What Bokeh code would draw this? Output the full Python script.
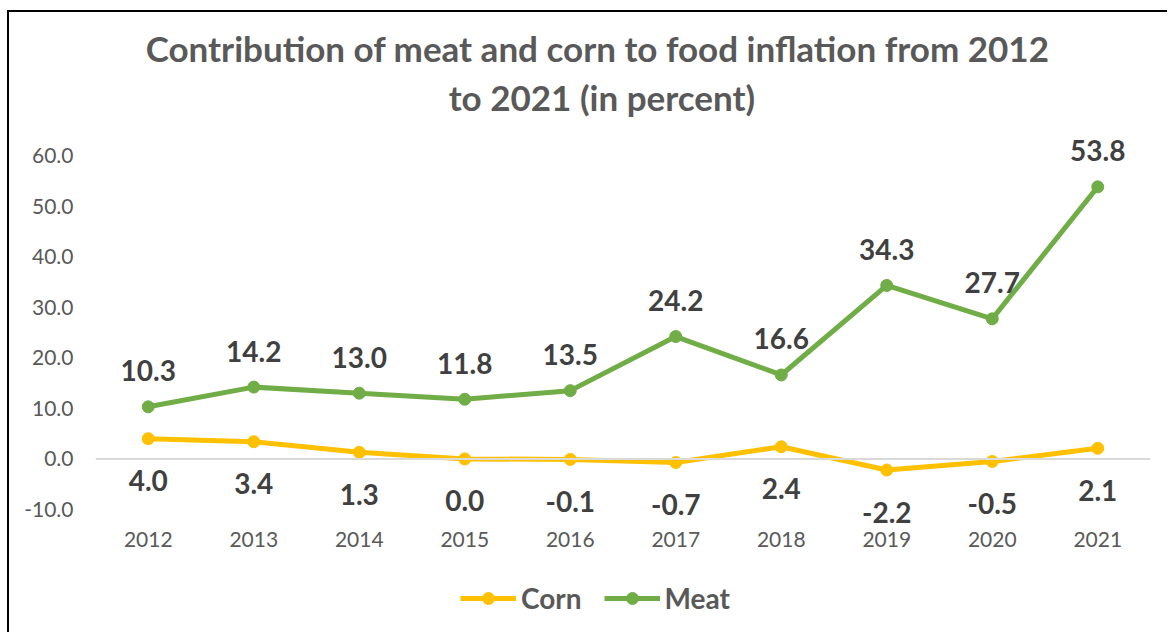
from bokeh.plotting import figure
from bokeh.models import (ColumnDataSource, FactorRange, Range1d, FixedTicker, NumeralTickFormatter,
                          Span, Label, LabelSet, Legend, LegendItem)
from bokeh.core.properties import value
from bokeh.embed import file_html
from bokeh.resources import INLINE

years = ["2012", "2013", "2014", "2015", "2016", "2017", "2018", "2019", "2020", "2021"]
corn = [4.0, 3.4, 1.3, 0.0, -0.1, -0.7, 2.4, -2.2, -0.5, 2.1]
meat = [10.3, 14.2, 13.0, 11.8, 13.5, 24.2, 16.6, 34.3, 27.7, 53.8]
y_ticks = [-10, 0, 10, 20, 30, 40, 50, 60]
title_lines = ["Contribution  of meat and corn to food inflation from 2012", "to 2021 (in percent)"]

CORN_C = "#FFC000"
MEAT_C = "#70AD47"
FONT = "Lato"

src = ColumnDataSource(dict(
    x=years, corn=corn, meat=meat,
    corn_lbl=[f"{v:.1f}" for v in corn],
    meat_lbl=[f"{v:.1f}" for v in meat],
))

p = figure(width=1160, height=622, x_range=FactorRange(*years), y_range=Range1d(-34.72, 87.88),
           output_backend="svg", toolbar_location=None,
           min_border_left=86, min_border_right=19, min_border_top=2, min_border_bottom=0)
p.margin = (10, 0, 0, 7)
p.styles = {"border-top": "2px solid black", "border-left": "2px solid black"}
p.outline_line_color = None
p.xgrid.visible = False
p.ygrid.visible = False
p.background_fill_color = "white"
p.border_fill_color = "white"

# axes
p.yaxis.ticker = FixedTicker(ticks=y_ticks)
p.yaxis.formatter = NumeralTickFormatter(format="0.0")
p.yaxis.axis_line_color = None
p.yaxis.major_tick_line_color = None
p.yaxis.minor_tick_line_color = None
p.yaxis.major_tick_out = 0
p.yaxis.major_label_standoff = 22
p.yaxis.major_label_text_font = FONT
p.yaxis.major_label_text_font_size = "21px"
p.yaxis.major_label_text_color = "#595959"

p.xaxis.fixed_location = -13.16
p.xaxis.axis_line_color = None
p.xaxis.major_tick_line_color = None
p.xaxis.major_tick_out = 0
p.xaxis.major_label_standoff = 7
p.xaxis.major_label_text_font = FONT
p.xaxis.major_label_text_font_size = "21px"
p.xaxis.major_label_text_color = "#595959"

p.add_layout(Span(location=0, dimension="width", line_color="#d9d9d9", line_width=2))

# series
rm_l = p.line("x", "meat", source=src, line_color=MEAT_C, line_width=5)
rm_s = p.scatter("x", "meat", source=src, size=12, fill_color=MEAT_C, line_color=MEAT_C)
rc_l = p.line("x", "corn", source=src, line_color=CORN_C, line_width=5)
rc_s = p.scatter("x", "corn", source=src, size=12, fill_color=CORN_C, line_color=CORN_C)

# data labels
p.add_layout(LabelSet(x="x", y="meat", text="meat_lbl", source=src, y_offset=36,
                      text_align="center", text_baseline="middle", text_font=value(FONT),
                      text_font_style="bold", text_font_size="28px", text_color="#404040"))
p.add_layout(LabelSet(x="x", y="corn", text="corn_lbl", source=src, y_offset=-42,
                      text_align="center", text_baseline="middle", text_font=value(FONT),
                      text_font_style="bold", text_font_size="28px", text_color="#404040"))

# title
for txt, yv in zip(title_lines, [81.2, 71.5]):
    p.add_layout(Label(x=4.80, y=yv, text=txt, text_align="center", text_baseline="middle",
                       text_font=FONT, text_font_style="bold", text_font_size="35px",
                       text_color="#595959"))

legend = Legend(items=[LegendItem(label="Corn", renderers=[rc_l, rc_s]),
                       LegendItem(label="Meat", renderers=[rm_l, rm_s])],
                location=(365, 19), orientation="horizontal",
                padding=0, margin=0, spacing=22, label_standoff=5,
                glyph_width=56, glyph_height=30, label_height=30,
                label_text_font=FONT, label_text_font_style="bold", label_text_font_size="28px",
                label_text_color="#595959", border_line_color=None, background_fill_alpha=0)
p.add_layout(legend, "center")

open("out.html", "w").write(file_html(p, INLINE))
